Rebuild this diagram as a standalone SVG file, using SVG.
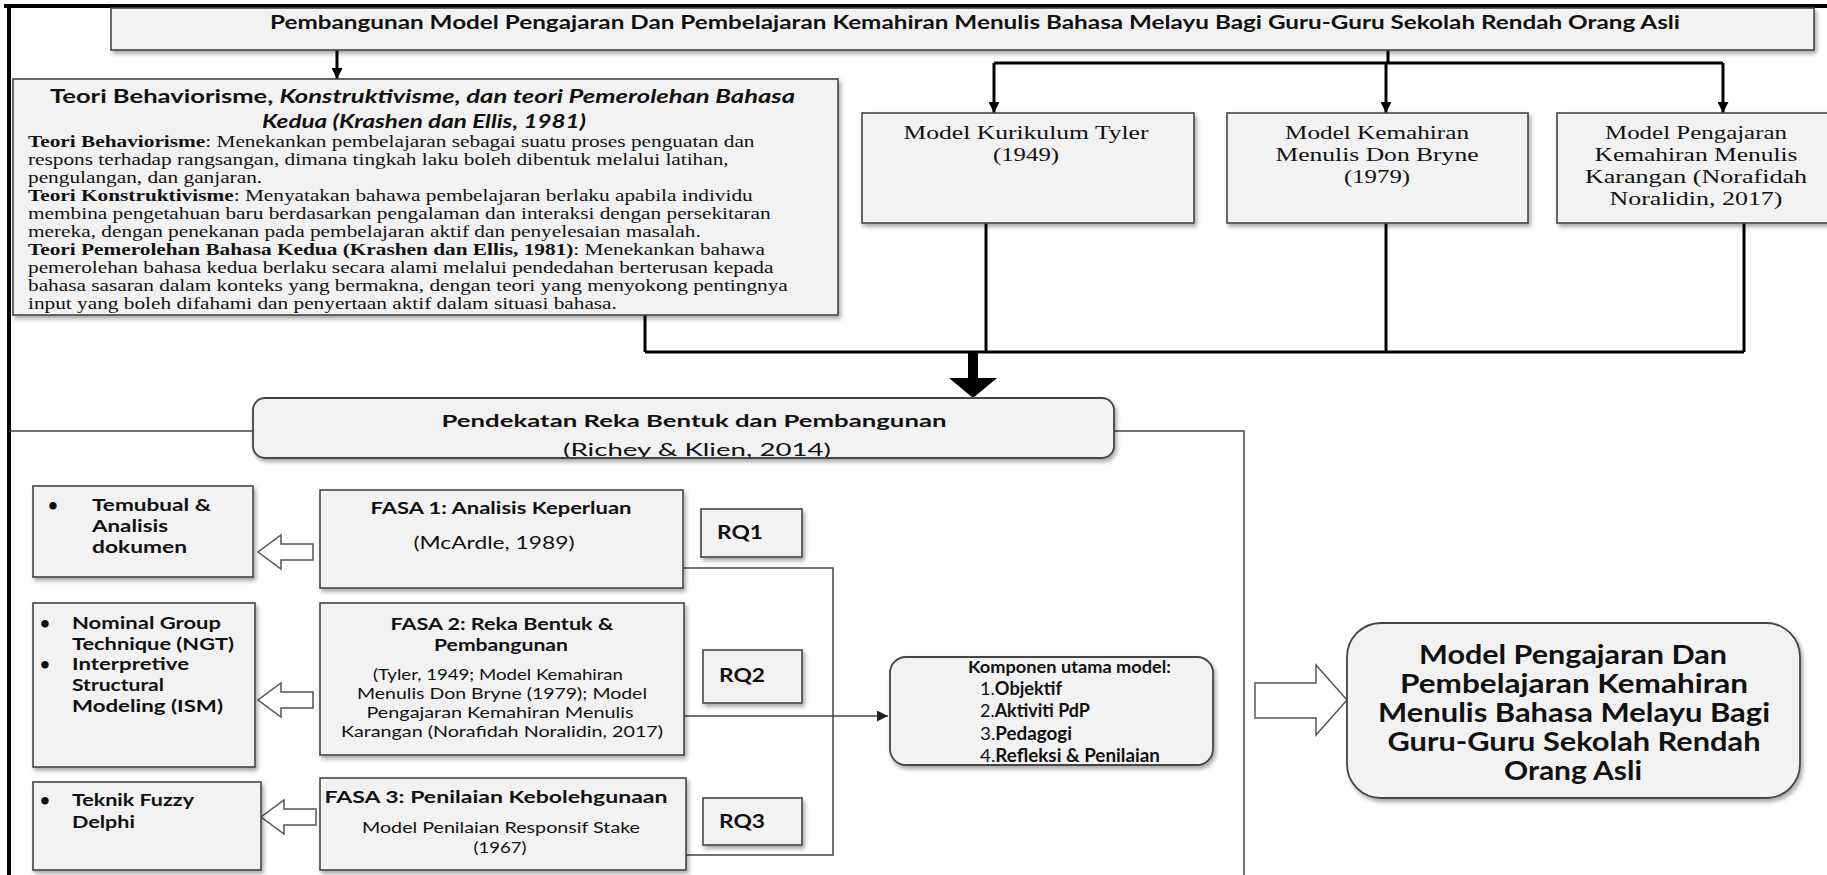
<svg xmlns="http://www.w3.org/2000/svg" width="1827" height="875" viewBox="0 0 1827 875">
<style>
.box{fill:#f2f2f2;stroke:#444;stroke-width:1.6}
.rbox{fill:#f2f2f2;stroke:#444;stroke-width:1.8}
.blk{fill:none;stroke:#000;stroke-width:3}
.thin{fill:none;stroke:#444;stroke-width:1.5}
.hollow{fill:#fff;stroke:#555;stroke-width:1.5}
.sans{font-family:Lato,"Liberation Sans",sans-serif;fill:#111}
.serif{font-family:"Liberation Serif","Times New Roman",serif;fill:#111}
.b{font-weight:bold}
</style>
<defs>
<filter id="sh" x="-5%" y="-10%" width="115%" height="135%">
<feDropShadow dx="2" dy="3" stdDeviation="2" flood-color="#000" flood-opacity="0.35"/>
</filter>
<marker id="ah" viewBox="0 0 10 10" refX="10" refY="5" markerWidth="11" markerHeight="11" markerUnits="userSpaceOnUse" orient="auto">
<path d="M0,0 L10,5 L0,10 z" fill="#000"/>
</marker>
<marker id="ah2" viewBox="0 0 10 10" refX="10" refY="5" markerWidth="11" markerHeight="11" markerUnits="userSpaceOnUse" orient="auto">
<path d="M0,0 L10,5 L0,10 z" fill="#222"/>
</marker>
<clipPath id="clipP"><rect x="253" y="398" width="861" height="59" rx="12"/></clipPath>
</defs>
<rect width="1827" height="875" fill="#fff"/>

<!-- outer frame -->
<g id="frame">
<path d="M4,6 H1827" stroke="#000" stroke-width="4" fill="none"/>
<path d="M9,4 V875" stroke="#000" stroke-width="4" fill="none"/>
<path d="M9,431 H253 M1114,431 H1244 V875" class="thin" stroke="#333"/>
</g>

<g id="connectors">
<path class="blk" d="M337,50 V79" marker-end="url(#ah)"/>
<path class="blk" d="M1388,50 V63 M994,63 H1723"/>
<path class="blk" d="M994,63 V113" marker-end="url(#ah)"/>
<path class="blk" d="M1386,63 V113" marker-end="url(#ah)"/>
<path class="blk" d="M1723,63 V113" marker-end="url(#ah)"/>
<path class="blk" d="M645,315 V352 M986,223 V352 M1386,223 V352 M1744,223 V352 M645,352 H1744"/>
<path d="M968,351 H978 V378 H997 L973,398 L949,378 H968 Z" fill="#000"/>
<path class="thin" d="M683,568 H833 V855 H686"/>
<path class="thin" d="M684,716 H888" marker-end="url(#ah2)"/>
<path class="hollow" d="M313,544 H281 V535 L258,552 L281,569 V560 H313 Z"/>
<path class="hollow" d="M313,692 H281 V683 L258,700 L281,717 V708 H313 Z"/>
<path class="hollow" d="M316,809 H284 V800 L261,817 L284,834 V825 H316 Z"/>
<path class="hollow" d="M1255,683 H1316 V665 L1347,700 L1316,735 V718 H1255 Z"/>
</g>

<g id="title">
<rect class="box" x="111" y="8" width="1703" height="42" filter="url(#sh)"/>
<text class="sans b" x="270" y="29" font-size="19" textLength="1410" lengthAdjust="spacingAndGlyphs">Pembangunan Model Pengajaran Dan Pembelajaran Kemahiran Menulis Bahasa Melayu Bagi Guru-Guru Sekolah Rendah Orang Asli</text>
</g>

<g id="teori">
<rect class="box" x="13" y="79" width="825" height="236" filter="url(#sh)"/>
<text class="sans b" x="50" y="103" font-size="18.5" textLength="745" lengthAdjust="spacingAndGlyphs">Teori Behaviorisme, <tspan font-style="italic">Konstruktivisme, dan teori Pemerolehan Bahasa</tspan></text>
<text class="sans b" x="262" y="128" font-size="18.5" font-style="italic" textLength="324" lengthAdjust="spacingAndGlyphs">Kedua (Krashen dan Ellis, 1981)</text>
<g class="serif" font-size="16" transform="translate(28,0) scale(1.3317,1)">
<text x="0" y="147"><tspan class="b">Teori Behaviorisme</tspan>: Menekankan pembelajaran sebagai suatu proses penguatan dan</text>
<text x="0" y="165">respons terhadap rangsangan, dimana tingkah laku boleh dibentuk melalui latihan,</text>
<text x="0" y="183">pengulangan, dan ganjaran.</text>
<text x="0" y="201"><tspan class="b">Teori Konstruktivisme</tspan>: Menyatakan bahawa pembelajaran berlaku apabila individu</text>
<text x="0" y="219">membina pengetahuan baru berdasarkan pengalaman dan interaksi dengan persekitaran</text>
<text x="0" y="237">mereka, dengan penekanan pada pembelajaran aktif dan penyelesaian masalah.</text>
<text x="0" y="255"><tspan class="b">Teori Pemerolehan Bahasa Kedua (Krashen dan Ellis, 1981)</tspan>: Menekankan bahawa</text>
<text x="0" y="273">pemerolehan bahasa kedua berlaku secara alami melalui pendedahan berterusan kepada</text>
<text x="0" y="291">bahasa sasaran dalam konteks yang bermakna, dengan teori yang menyokong pentingnya</text>
<text x="0" y="309">input yang boleh difahami dan penyertaan aktif dalam situasi bahasa.</text>
</g>
</g>

<g id="tyler">
<rect class="box" x="862" y="113" width="332" height="110" filter="url(#sh)"/>
<g class="serif" font-size="19" text-anchor="middle">
<text x="1026" y="139" textLength="245" lengthAdjust="spacingAndGlyphs">Model Kurikulum Tyler</text>
<text x="1026" y="161" textLength="66" lengthAdjust="spacingAndGlyphs">(1949)</text>
</g>
</g>

<g id="bryne">
<rect class="box" x="1227" y="113" width="301" height="110" filter="url(#sh)"/>
<g class="serif" font-size="19" text-anchor="middle">
<text x="1377" y="139" textLength="184" lengthAdjust="spacingAndGlyphs">Model Kemahiran</text>
<text x="1377" y="161" textLength="203" lengthAdjust="spacingAndGlyphs">Menulis Don Bryne</text>
<text x="1377" y="183" textLength="66" lengthAdjust="spacingAndGlyphs">(1979)</text>
</g>
</g>

<g id="norafidah">
<rect class="box" x="1557" y="113" width="280" height="110" filter="url(#sh)"/>
<g class="serif" font-size="19" text-anchor="middle">
<text x="1696" y="139" textLength="182" lengthAdjust="spacingAndGlyphs">Model Pengajaran</text>
<text x="1696" y="161" textLength="203" lengthAdjust="spacingAndGlyphs">Kemahiran Menulis</text>
<text x="1696" y="183" textLength="222" lengthAdjust="spacingAndGlyphs">Karangan (Norafidah</text>
<text x="1696" y="205" textLength="173" lengthAdjust="spacingAndGlyphs">Noralidin, 2017)</text>
</g>
</g>

<g id="pendekatan">
<rect class="rbox" x="253" y="398" width="861" height="60" rx="12" filter="url(#sh)"/>
<g clip-path="url(#clipP)" class="sans" text-anchor="middle" font-size="17.5">
<text class="b" x="694" y="427" textLength="505" lengthAdjust="spacingAndGlyphs">Pendekatan Reka Bentuk dan Pembangunan</text>
<text x="697" y="456" textLength="268" lengthAdjust="spacingAndGlyphs">(Richey &amp; Klien, 2014)</text>
</g>
</g>

<g id="temubual">
<rect class="box" x="33" y="486" width="220" height="91" filter="url(#sh)"/>
<g class="sans b" font-size="17">
<text x="48" y="511">•</text>
<text x="92" y="511" textLength="119" lengthAdjust="spacingAndGlyphs">Temubual &amp;</text>
<text x="92" y="532" textLength="76" lengthAdjust="spacingAndGlyphs">Analisis</text>
<text x="92" y="553" textLength="95" lengthAdjust="spacingAndGlyphs">dokumen</text>
</g>
</g>

<g id="fasa1">
<rect class="box" x="320" y="490" width="363" height="98" filter="url(#sh)"/>
<g class="sans" font-size="17" text-anchor="middle">
<text class="b" x="501" y="514" textLength="261" lengthAdjust="spacingAndGlyphs">FASA 1: Analisis Keperluan</text>
<text x="494" y="549" textLength="161" lengthAdjust="spacingAndGlyphs">(McArdle, 1989)</text>
</g>
</g>

<g id="rq1">
<rect class="box" x="701" y="509" width="101" height="48" filter="url(#sh)"/>
<text class="sans b" x="717" y="539" font-size="18" textLength="46" lengthAdjust="spacingAndGlyphs">RQ1</text>
</g>

<g id="ngt">
<rect class="box" x="33" y="603" width="222" height="164" filter="url(#sh)"/>
<g class="sans b" font-size="17">
<text x="40" y="629">•</text>
<text x="72" y="629" textLength="149" lengthAdjust="spacingAndGlyphs">Nominal Group</text>
<text x="72" y="650" textLength="162" lengthAdjust="spacingAndGlyphs">Technique (NGT)</text>
<text x="40" y="670">•</text>
<text x="72" y="670" textLength="117" lengthAdjust="spacingAndGlyphs">Interpretive</text>
<text x="72" y="691" textLength="92" lengthAdjust="spacingAndGlyphs">Structural</text>
<text x="72" y="712" textLength="151" lengthAdjust="spacingAndGlyphs">Modeling (ISM)</text>
</g>
</g>

<g id="fasa2">
<rect class="box" x="320" y="603" width="364" height="152" filter="url(#sh)"/>
<g class="sans" font-size="17" text-anchor="middle">
<text class="b" x="502" y="630" textLength="223" lengthAdjust="spacingAndGlyphs">FASA 2: Reka Bentuk &amp;</text>
<text class="b" x="501" y="651" textLength="134" lengthAdjust="spacingAndGlyphs">Pembangunan</text>
</g>
<g class="sans" font-size="15" text-anchor="middle">
<text x="498" y="680" textLength="250" lengthAdjust="spacingAndGlyphs">(Tyler, 1949; Model Kemahiran</text>
<text x="502" y="699" textLength="290" lengthAdjust="spacingAndGlyphs">Menulis Don Bryne (1979); Model</text>
<text x="500" y="718" textLength="267" lengthAdjust="spacingAndGlyphs">Pengajaran Kemahiran Menulis</text>
<text x="502" y="737" textLength="322" lengthAdjust="spacingAndGlyphs">Karangan (Norafidah Noralidin, 2017)</text>
</g>
</g>

<g id="rq2">
<rect class="box" x="703" y="650" width="99" height="53" filter="url(#sh)"/>
<text class="sans b" x="719" y="682" font-size="18" textLength="46" lengthAdjust="spacingAndGlyphs">RQ2</text>
</g>

<g id="fuzzy">
<rect class="box" x="33" y="782" width="228" height="88" filter="url(#sh)"/>
<g class="sans b" font-size="17">
<text x="40" y="806">•</text>
<text x="72" y="806" textLength="122" lengthAdjust="spacingAndGlyphs">Teknik Fuzzy</text>
<text x="72" y="828" textLength="63" lengthAdjust="spacingAndGlyphs">Delphi</text>
</g>
</g>

<g id="fasa3">
<rect class="box" x="320" y="778" width="366" height="92" filter="url(#sh)"/>
<text class="sans b" x="496" y="803" font-size="17" text-anchor="middle" textLength="343" lengthAdjust="spacingAndGlyphs">FASA 3: Penilaian Kebolehgunaan</text>
<g class="sans" font-size="15" text-anchor="middle">
<text x="501" y="833" textLength="278" lengthAdjust="spacingAndGlyphs">Model Penilaian Responsif Stake</text>
<text x="500" y="853" textLength="53" lengthAdjust="spacingAndGlyphs">(1967)</text>
</g>
</g>

<g id="rq3">
<rect class="box" x="703" y="798" width="99" height="47" filter="url(#sh)"/>
<text class="sans b" x="719" y="828" font-size="18" textLength="46" lengthAdjust="spacingAndGlyphs">RQ3</text>
</g>

<g id="komponen">
<rect class="rbox" x="890" y="657" width="323" height="108" rx="16" filter="url(#sh)"/>
<g class="sans" font-size="18">
<text class="b" x="968" y="673" font-size="17" textLength="203" lengthAdjust="spacingAndGlyphs">Komponen utama model:</text>
<text x="980" y="695" textLength="82" lengthAdjust="spacingAndGlyphs">1.<tspan class="b">Objektif</tspan></text>
<text x="980" y="717" textLength="110" lengthAdjust="spacingAndGlyphs">2.<tspan class="b">Aktiviti PdP</tspan></text>
<text x="980" y="740" textLength="92" lengthAdjust="spacingAndGlyphs">3.<tspan class="b">Pedagogi</tspan></text>
<text x="980" y="762" textLength="180" lengthAdjust="spacingAndGlyphs">4.<tspan class="b">Refleksi &amp; Penilaian</tspan></text>
</g>
</g>

<g id="model-akhir">
<rect class="rbox" x="1347" y="623" width="453" height="175" rx="34" filter="url(#sh)"/>
<g class="sans b" font-size="26" text-anchor="middle">
<text x="1573" y="664" textLength="308" lengthAdjust="spacingAndGlyphs">Model Pengajaran Dan</text>
<text x="1574" y="693" textLength="348" lengthAdjust="spacingAndGlyphs">Pembelajaran Kemahiran</text>
<text x="1574" y="722" textLength="392" lengthAdjust="spacingAndGlyphs">Menulis Bahasa Melayu Bagi</text>
<text x="1574" y="751" textLength="373" lengthAdjust="spacingAndGlyphs">Guru-Guru Sekolah Rendah</text>
<text x="1573" y="780" textLength="138" lengthAdjust="spacingAndGlyphs">Orang Asli</text>
</g>
</g>
</svg>
